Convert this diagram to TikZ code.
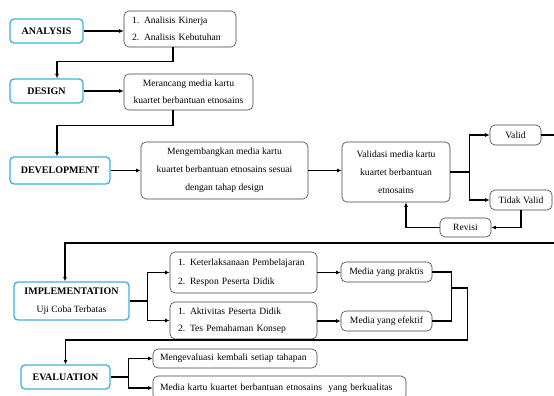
\documentclass[tikz,border=0pt]{standalone}
\usepackage{fontspec}
\setmainfont{Liberation Serif}
\usetikzlibrary{arrows.meta, positioning, calc}

\definecolor{phaseblue}{RGB}{62,176,222}
\newcommand{\itemno}[1]{\makebox[12pt][l]{#1}}

\tikzset{
    phase/.style={draw=phaseblue, line width=1.3pt, rounded corners=4pt, inner sep=0pt, align=center, font=\bfseries\fontsize{10}{18}\selectfont},
    itembox/.style={draw=black!75, line width=0.6pt, rounded corners=5pt, inner sep=0pt, font=\fontsize{9.6}{18}\selectfont},
    link/.style={line width=1.3pt, -{Latex[length=4.5pt,width=4pt]}},
    plain/.style={line width=1.3pt},
}

\begin{document}
\begin{tikzpicture}[x=1pt, y=-1pt]
    \useasboundingbox (0,0) rectangle (554,396);
    \clip (0,0) rectangle (554,396);

    % phases on the left
    \node[phase, minimum width=73pt, minimum height=24pt] (analysis) at (46.5,31) {ANALYSIS};
    \node[phase, minimum width=73pt, minimum height=24pt] (design) at (46.5,91) {DESIGN};
    \node[phase, minimum width=100pt, minimum height=27pt] (devel) at (60,170.5) {DEVELOPMENT};
    \node[phase, minimum width=115pt, minimum height=38pt] (impl) at (71.5,301) {IMPLEMENTATION\\{\mdseries\fontsize{9.6}{18}\selectfont Uji Coba Terbatas}};
    \node[phase, minimum width=89pt, minimum height=24pt] (eval) at (65.5,377) {EVALUATION};

    % analysis and design
    \node[itembox, minimum width=112pt, minimum height=36pt, text width=96pt, align=left, font=\fontsize{9.6}{17}\selectfont] (alist) at (180,29) {\itemno{1.}Analisis Kinerja\\\itemno{2.}Analisis Kebutuhan};
    \node[itembox, minimum width=129pt, minimum height=36pt, align=center, font=\fontsize{9.6}{17}\selectfont] (rancang) at (188.5,92) {Merancang media kartu\\kuartet berbantuan etnosains};

    % development and validation
    \node[itembox, minimum width=167pt, minimum height=57pt, align=center] (kembang) at (224.5,170.5) {Mengembangkan media kartu\\kuartet berbantuan etnosains sesuai\\dengan tahap design};
    \node[itembox, minimum width=108pt, minimum height=60pt, align=center] (validasi) at (396,172) {Validasi media kartu\\kuartet berbantuan\\etnosains};
    \node[itembox, minimum width=51pt, minimum height=20pt] (valid) at (515.5,135) {Valid};
    \node[itembox, minimum width=62pt, minimum height=20pt] (tidak) at (521,200) {Tidak Valid};
    \node[itembox, minimum width=51pt, minimum height=19pt] (revisi) at (465.5,227.5) {Revisi};

    % implementation
    \node[itembox, minimum width=147pt, minimum height=41pt, text width=131pt, align=left, font=\fontsize{9.6}{19}\selectfont] (kbox) at (243.5,272.5) {\itemno{1.}Keterlaksanaan Pembelajaran\\\itemno{2.}Respon Peserta Didik};
    \node[itembox, minimum width=147pt, minimum height=37pt, text width=131pt, align=left, font=\fontsize{9.6}{17}\selectfont] (abox) at (243.5,320.5) {\itemno{1.}Aktivitas Peserta Didik\\\itemno{2.}Tes Pemahaman Konsep};
    \node[itembox, minimum width=91pt, minimum height=20pt] (praktis) at (386.5,272) {Media yang praktis};
    \node[itembox, minimum width=91pt, minimum height=20pt] (efektif) at (386.5,321) {Media yang efektif};

    % evaluation
    \node[itembox, minimum width=164pt, minimum height=19pt, text width=150pt, align=left] (evone) at (235,358.5) {Mengevaluasi kembali setiap tahapan};
    \node[itembox, minimum width=253pt, minimum height=24pt, text width=239pt, align=left] (evtwo) at (279.5,388) {Media kartu kuartet berbantuan etnosains\ \ yang berkualitas};

    \coordinate (edgeA) at (554,135);
    \coordinate (edgeB) at (554,243);

    % connectors
    \draw[link] (analysis.east) -- (analysis.east -| alist.west);
    \draw[link] ([xshift=-7pt]alist.south) -- ++(0,14) -| ([xshift=10.5pt]design.north);
    \draw[link] (design.east) -- (design.east -| rancang.west);
    \draw[link] ([xshift=-15.5pt]rancang.south) -- ++(0,15) -| ([xshift=-3pt]devel.north);
    \draw[link] (devel.east) -- (devel.east -| kembang.west);
    \draw[link] (kembang.east) -- (kembang.east -| validasi.west);
    \draw[plain] (validasi.east) -- ++(19,0) coordinate (vsplit);
    \draw[link] (vsplit) |- (valid.west);
    \draw[link] (vsplit) |- (tidak.west);
    \draw[plain] (valid.east) -- (edgeA);
    \draw[link] (tidak.south) |- (revisi.east);
    \draw[link] (revisi.west) -| ([xshift=10pt]validasi.south);
    \draw[link] (edgeB) -| ([xshift=-6.5pt]impl.north);

    \draw[plain] (impl.east) -- ++(18,0) coordinate (isplit);
    \draw[link] (isplit) |- (kbox.west);
    \draw[link] (isplit) |- (abox.west);
    \draw[link] (kbox.east) -- (kbox.east -| praktis.west);
    \draw[link] (efektif.west -| abox.east) -- (efektif.west);
    \draw[plain] (praktis.east) -- ++(19,0) |- (efektif.east);
    \draw[link] ($(praktis.east)+(19,16)$) -- ++(16,0) -- ++(0,52) -| (eval.north);

    \draw[plain] (eval.east) -- ++(18,0) coordinate (esplit);
    \draw[link] (esplit) |- (evone.west);
    \draw[link] (esplit) |- (evtwo.west);
\end{tikzpicture}
\end{document}
